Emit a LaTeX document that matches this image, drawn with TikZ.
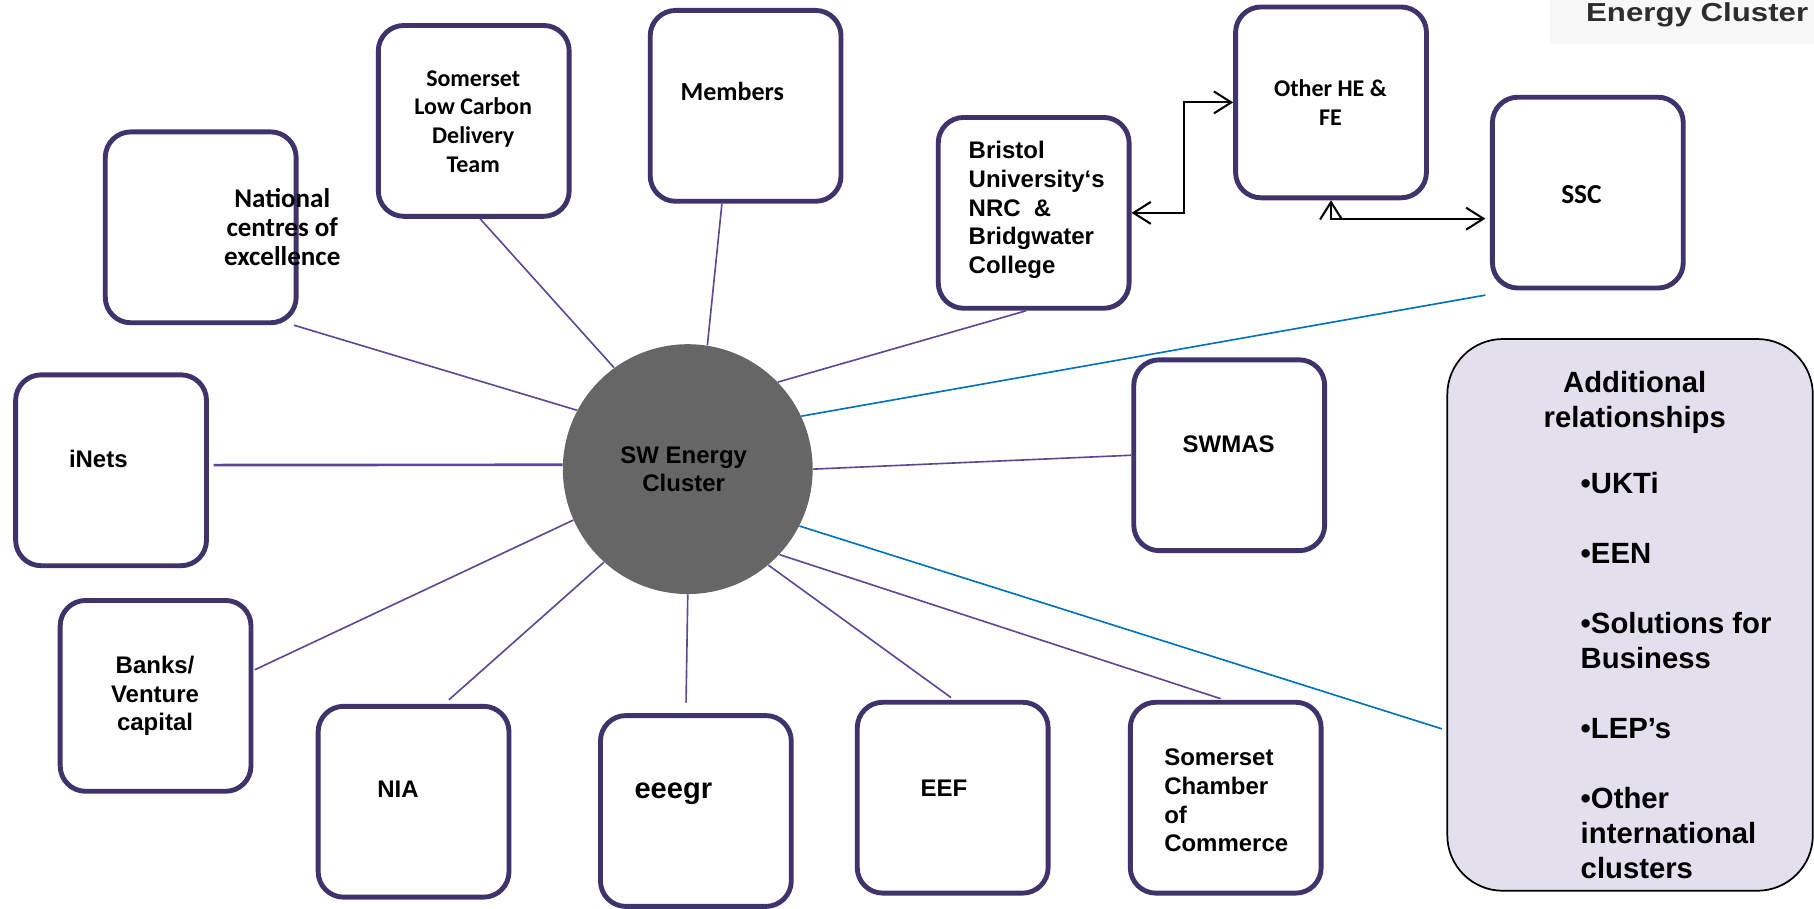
\documentclass[tikz,border=0pt]{standalone}
\usepackage{fontspec}
\usepackage{graphicx}
\setmainfont{Liberation Sans}
\newfontfamily\calfont{Carlito}
\usetikzlibrary{arrows.meta}
\definecolor{boxc}{RGB}{64,50,106}
\definecolor{linec}{RGB}{94,72,150}
\definecolor{bluec}{RGB}{0,112,192}
\definecolor{addc}{RGB}{228,223,236}
\definecolor{circc}{RGB}{102,102,102}
\definecolor{ttlbg}{RGB}{248,248,248}
\definecolor{ttlc}{RGB}{45,45,45}
\begin{document}
\begin{tikzpicture}[x=0.02cm,y=-0.02cm,
  box/.style={draw=boxc, line width=2.4pt, rounded corners=0.44cm, minimum width=3.3cm, minimum height=3.3cm, fill=white, inner sep=0},
  conn/.style={draw=linec, line width=0.8pt},
  bconn/.style={draw=bluec, line width=0.8pt},
  harr/.style={draw=black, line width=1pt, {Straight Barb[length=0.3cm,width=0.38cm]}-{Straight Barb[length=0.3cm,width=0.38cm]}},
  ar/.style={inner sep=0, font=\bfseries\fontsize{11.8}{14.1}\selectfont},
  cb/.style={inner sep=0, font=\calfont\bfseries\fontsize{11.8}{14.1}\selectfont}]
\useasboundingbox (0,0) rectangle (1568,785);
% title
\fill[ttlbg] (1340,0) rectangle (1568,38);
\node[anchor=base, inner sep=0, text=ttlc, font=\bfseries\fontsize{12.8}{15}\selectfont] (ttl) at (1467,19) {\scalebox{1.2}[1]{Energy Cluster}};
% additional box
\node[draw=black, line width=0.85pt, fill=addc, rounded corners=0.96cm, minimum width=6.32cm, minimum height=9.54cm, inner sep=0] (add) at (1409,531.5) {};
% centre circle
\node[circle, fill=circc, minimum size=4.32cm, inner sep=0] (cl) at (594.5,405.5) {};
% boxes
\node[box] (nat) at (173.5,196.5) {};
\node[box] (lcdt) at (409.5,104.5) {};
\node[box] (mem) at (644.5,91.5) {};
\node[box] (bris) at (893.5,184) {};
\node[box] (ohe) at (1150.5,88.5) {};
\node[box] (ssc) at (1372.5,166.5) {};
\node[box] (inets) at (96,406.5) {};
\node[box] (swmas) at (1062.5,393.5) {};
\node[box] (banks) at (134.5,601.5) {};
\node[box] (nia) at (357.5,693) {};
\node[box] (eeegr) at (601.5,701) {};
\node[box] (eef) at (823.5,689.5) {};
\node[box] (cham) at (1059.5,689.5) {};
% connectors
\draw[conn] ([xshift=-0.08cm]nat.south east) -- (cl.152);
\draw[conn] ([xshift=0.11cm]lcdt.south) -- (cl.126);
\draw[conn] ([xshift=-0.41cm]mem.south) -- (cl.81);
\draw[conn] ([xshift=-0.13cm]bris.south) -- (cl.44);
\draw[conn, line width=1.3pt] ([shift={(4,-4.5)}]inets.east) -- (cl.178);
\draw[conn] (swmas.west) -- (cl.-0.5);
\draw[conn] ([shift={(1,-22.5)}]banks.east) -- (cl.204.5);
\draw[conn] ([shift={(30.5,-3.5)}]nia.north) -- (cl.228);
\draw[conn] ([shift={(-8.5,-9)}]eeegr.north) -- (cl.270.5);
\draw[conn] ([shift={(-1.5,-2)}]eef.north) -- (cl.-50.3);
\draw[conn] ([shift={(-4.5,-1)}]cham.north) -- (cl.-43.9);
\draw[bconn] ([shift={(-4,4)}]ssc.south west) -- (cl.25.2);
\draw[bconn] ([shift={(-4,98.5)}]add.west) -- (cl.-27);
% arrows
\draw[harr] (bris.east) -- ++(45.5,0) |- (ohe.west);
\draw[harr] (ohe.south) |- ([shift={(-4,22.5)}]ssc.west);
% texts
\node[cb, align=center, font=\calfont\bfseries\fontsize{13.3}{14.2}\selectfont] (nat-t) at (244,196) {National\\centres of\\excellence};
\node[cb, align=center] (lcdt-t) at (409,105) {Somerset\\Low Carbon\\Delivery\\Team};
\node[cb, font=\calfont\bfseries\fontsize{12.8}{15}\selectfont] (mem-t) at (633,79) {Members};
\node[ar, align=left, anchor=west] (bris-t) at (837,181.5) {Bristol\\University‘s\\NRC\ \ \&\\Bridgwater\\College};
\node[cb, align=center] (ohe-t) at (1150,88.5) {Other HE \&\\FE};
\node[cb, font=\calfont\bfseries\fontsize{13.5}{16}\selectfont] (ssc-t) at (1367,168) {SSC};
\node[ar] (inets-t) at (85,397) {iNets};
\node[ar] (swmas-t) at (1062,384) {SWMAS};
\node[ar, align=center] (cl-t) at (591,405.5) {SW Energy\\Cluster};
\node[ar, align=center] (banks-t) at (134,601.5) {Banks/\\Venture\\capital};
\node[ar] (nia-t) at (344,682) {NIA};
\node[ar, font=\bfseries\fontsize{14.3}{17}\selectfont] (eeegr-t) at (582,686) {eeegr};
\node[ar] (eef-t) at (816,681) {EEF};
\node[ar, align=left, anchor=west] (cham-t) at (1006,692) {Somerset\\Chamber\\of\\Commerce};
\node[inner sep=0, align=center, font=\bfseries\fontsize{14.4}{17.2}\selectfont] (add-h) at (1413,348) {Additional\\relationships};
\node[inner sep=0, align=left, anchor=north west, font=\bfseries\fontsize{14.4}{17.2}\selectfont] (add-t) at (1366,408) {•UKTi\\[17.2pt]•EEN\\[17.2pt]•Solutions for\\Business\\[17.2pt]•LEP’s\\[17.2pt]•Other\\international\\clusters};
\end{tikzpicture}
\end{document}
